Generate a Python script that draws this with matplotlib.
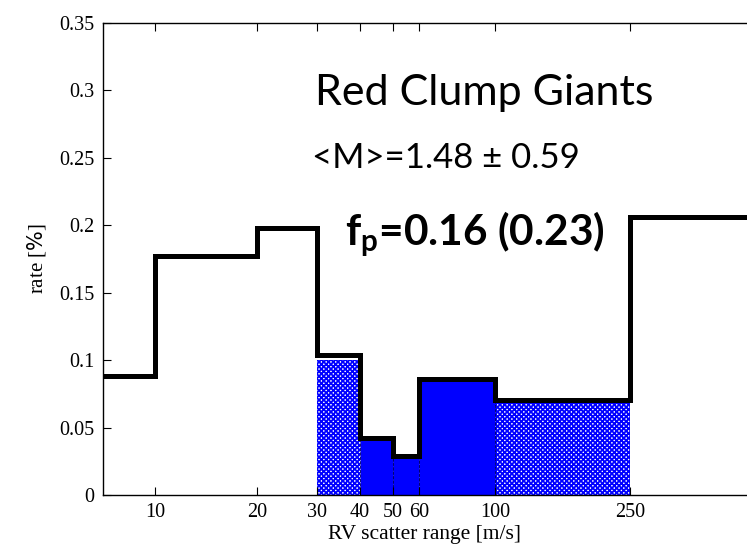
import numpy as np
import matplotlib

matplotlib.use("Agg")
import matplotlib.pyplot as plt
from matplotlib.ticker import FixedLocator, NullLocator

# bin edges of RV scatter [m/s] and rate per bin
edges = [5, 10, 20, 30, 40, 50, 60, 100, 250, 1000]
rate = [0.088, 0.1775, 0.198, 0.1035, 0.042, 0.029, 0.086, 0.0705, 0.2058]

# planet-host part of the bins (hatched = candidates, solid = confirmed)
hatch_left = [30, 100]
hatch_right = [40, 250]
hatch_rate = [0.100, 0.070]
solid_left = [40, 50, 60]
solid_right = [50, 60, 100]
solid_rate = [0.042, 0.029, 0.086]

xticks = [10, 20, 30, 40, 50, 60, 100, 250]
yticks = [0, 0.05, 0.1, 0.15, 0.2, 0.25, 0.3, 0.35]
ytick_labels = ["0", "0.05", "0.1", "0.15", "0.2", "0.25", "0.3", "0.35"]

plt.rcParams["hatch.linewidth"] = 1.3
plt.rcParams["hatch.color"] = "blue"

fig = plt.figure(figsize=(7.47, 5.44), dpi=100)
ax = fig.add_axes([103 / 747, 1 - 495 / 544, 644 / 747, 472 / 544])

ax.set_xscale("log")
ax.set_xlim(7.03, 552)
ax.set_ylim(0, 0.35)

w = np.array(hatch_right) - np.array(hatch_left)
ax.bar(hatch_left, hatch_rate, width=w, align="edge", facecolor="white",
       edgecolor="blue", hatch="xxxxxxx", linewidth=0, zorder=1)
w = np.array(solid_right) - np.array(solid_left)
ax.bar(solid_left, solid_rate, width=w, align="edge", facecolor="blue",
       edgecolor="#000060", linewidth=0.6, linestyle="--", zorder=1)

ax.stairs(rate, edges, color="black", linewidth=3.6, zorder=3)

ax.xaxis.set_major_locator(FixedLocator(xticks))
ax.xaxis.set_minor_locator(NullLocator())
ax.set_xticklabels([str(t) for t in xticks])
ax.set_yticks(yticks)
ax.set_yticklabels(ytick_labels)

serif = ["Liberation Serif", "DejaVu Serif"]
ax.tick_params(direction="in", length=6, width=0.8, top=True, right=False,
               labelsize=14.5, pad=6)
for lab in ax.get_xticklabels() + ax.get_yticklabels():
    lab.set_family(serif)
ax.spines["right"].set_visible(False)
for s in ["left", "bottom", "top"]:
    ax.spines[s].set_linewidth(1.0)

ax.set_xlabel("RV scatter range [m/s]", family=serif, fontsize=15.5, labelpad=2)
ax.set_ylabel(r"rate [$\%$]", family=serif, fontsize=15, labelpad=8)

sans = ["Lato", "DejaVu Sans"]
fig.text(315 / 747, 1 - 105 / 544, "Red Clump Giants", family=sans,
         fontsize=31, ha="left", va="baseline")
fig.text(312 / 747, 1 - 168 / 544, "<M>=1.48 \u00b1 0.59", family=sans,
         fontsize=25, ha="left", va="baseline")
fig.text(345 / 747, 1 - 245 / 544, r"f$_\mathregular{p}$=0.16 (0.23)",
         family=sans, fontsize=30.5, fontweight="bold", ha="left",
         va="baseline")

plt.savefig("out.png", dpi=100)
